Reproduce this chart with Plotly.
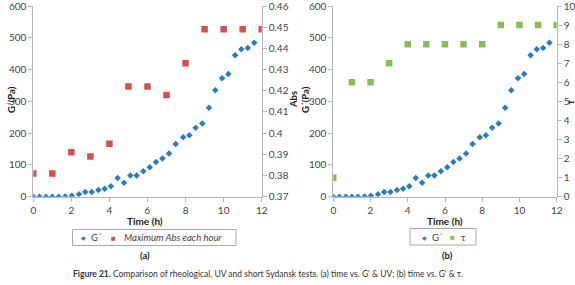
import plotly.graph_objects as go

# G' measurements (time in h, G' in Pa)
g_time = [0, 0.33, 0.67, 1.0, 1.33, 1.68, 2.02, 2.40, 2.73, 3.07, 3.42, 3.75, 4.08, 4.43,
          4.77, 5.10, 5.43, 5.78, 6.12, 6.45, 6.78, 7.13, 7.48, 7.87, 8.20, 8.53, 8.88,
          9.23, 9.56, 9.92, 10.25, 10.60, 10.93, 11.27, 11.61]
g_val = [0, 0, 0, 0, 0, 1, 3, 8, 15, 15, 21, 25, 33, 59,
         44, 67, 67, 80, 93, 109, 120, 136, 166, 187, 193, 217, 230,
         280, 335, 373, 386, 445, 464, 468, 484]

# hourly values
hours = [0, 1, 2, 3, 4, 5, 6, 7, 8, 9, 10, 11, 12]
abs_max = [0.381, 0.381, 0.391, 0.389, 0.395, 0.422, 0.422, 0.418, 0.433, 0.449, 0.449, 0.449, 0.449]
tau = [1, 6, 6, 7, 8, 8, 8, 8, 8, 9, 9, 9, 9]

x_ticks = [0, 2, 4, 6, 8, 10, 12]
g_ticks = [0, 100, 200, 300, 400, 500, 600]
abs_ticks = [0.37, 0.38, 0.39, 0.4, 0.41, 0.42, 0.43, 0.44, 0.45, 0.46]
abs_labels = ["0.37", "0.38", "0.39", "0.4", "0.41", "0.42", "0.43", "0.44", "0.45", "0.46"]
tau_ticks = list(range(0, 11))

BLUE = "#2b7bbf"
RED = "#d4504c"
GREEN = "#86bd55"
AX = "#b8b8b8"
FONT = "Lato, 'Open Sans', sans-serif"

fig = go.Figure()
fig.add_trace(go.Scatter(x=g_time, y=g_val, mode="markers", name="G´",
                         marker=dict(symbol="diamond", size=5, color=BLUE),
                         xaxis="x", yaxis="y"))
fig.add_trace(go.Scatter(x=hours, y=abs_max, mode="markers", name="Maximum Abs each hour",
                         marker=dict(symbol="square", size=6.5, color=RED),
                         xaxis="x", yaxis="y2"))
fig.add_trace(go.Scatter(x=g_time, y=g_val, mode="markers", name="G´",
                         marker=dict(symbol="diamond", size=5, color=BLUE),
                         xaxis="x2", yaxis="y3"))
fig.add_trace(go.Scatter(x=hours, y=tau, mode="markers", name="τ",
                         marker=dict(symbol="square", size=6.5, color=GREEN),
                         xaxis="x2", yaxis="y4"))

ydom = [1 - 196.7 / 285, 1 - 6 / 285]
common = dict(showgrid=False, zeroline=False, showline=True, linecolor=AX, linewidth=1,
              ticks="outside", ticklen=4, tickcolor=AX, automargin=False,
              ticklabeloverflow="allow",
              tickfont=dict(size=10, color="#444", family=FONT))

fig.update_layout(
    width=575, height=285,
    margin=dict(l=0, r=0, t=0, b=0, autoexpand=False),
    paper_bgcolor="white", plot_bgcolor="white",
    font=dict(family=FONT, color="#333"),
    showlegend=False,
    xaxis=dict(domain=[33.3 / 575, 261.7 / 575], range=[0, 12], tickvals=x_ticks,
               anchor="y", **common),
    yaxis=dict(domain=ydom, range=[0, 600], tickvals=g_ticks, anchor="x", **common),
    yaxis2=dict(range=[0.37, 0.46], tickvals=abs_ticks, ticktext=abs_labels,
                overlaying="y", side="right", anchor="x", **common),
    xaxis2=dict(domain=[333.3 / 575, 556.7 / 575], range=[0, 12], tickvals=x_ticks,
                anchor="y3", **common),
    yaxis3=dict(domain=ydom, range=[0, 600], tickvals=g_ticks, anchor="x2", **common),
    yaxis4=dict(range=[0, 10], tickvals=tau_ticks, overlaying="y3", side="right",
                anchor="x2", **common),
)

def px(x):
    return x / 575

def py(y):
    return 1 - y / 285

ann = []
def txt(x, y, s, size=11, angle=0, color="#222", xanchor="center"):
    ann.append(dict(x=px(x), y=py(y), xref="paper", yref="paper", text=s,
                    showarrow=False, textangle=angle,
                    font=dict(size=size, color=color, family=FONT),
                    xanchor=xanchor, yanchor="middle"))

txt(11, 100, "<b>G´(Pa)</b>", 9.5, angle=-90)
txt(293, 100, "<b>Abs</b>", 9.5, angle=-90)
txt(305, 100, "<b>G´(Pa)</b>", 9.5, angle=-90)
txt(569.5, 102, "<b>τ</b>", 9.5, angle=-90)
txt(145, 220.5, "<b>Time (h)</b>", 10)
txt(445, 220.5, "<b>Time (h)</b>", 10)
txt(145, 255, "<b>(a)</b>", 9.5)
txt(447, 255, "<b>(b)</b>", 9.5)
txt(268, 274, "<b>Figure 21.</b> Comparison of rheological, UV and short Sydansk tests. (a) time vs. G' &amp; UV; (b) time vs. G' &amp; τ.", 8.5, color="#333")

# compact legends (boxes + keys)
shapes = [
    dict(type="rect", xref="paper", yref="paper", x0=px(72.5), x1=px(236), y0=py(245.5), y1=py(229.5),
         line=dict(color="#aaa", width=1), fillcolor="rgba(0,0,0,0)"),
    dict(type="rect", xref="paper", yref="paper", x0=px(410), x1=px(476), y0=py(245), y1=py(228.5),
         line=dict(color="#aaa", width=1), fillcolor="rgba(0,0,0,0)"),
]
txt(83, 237.5, "◆", 6, color=BLUE)
txt(89, 237.5, "G´", 9.5, color="#444", xanchor="left")
txt(113, 237.5, "■", 8, color=RED)
txt(122, 237.5, "<i>Maximum Abs each hour</i>", 9.5, color="#444", xanchor="left")
txt(424, 237, "◆", 6, color=BLUE)
txt(430, 237, "G´", 9.5, color="#444", xanchor="left")
txt(452, 237, "■", 8, color=GREEN)
txt(459, 237, "τ", 9.5, color="#444", xanchor="left")

fig.update_layout(annotations=ann, shapes=shapes)

fig.write_html("out.html", config={"displayModeBar": False},
               post_script="document.body.style.margin='0px';")
